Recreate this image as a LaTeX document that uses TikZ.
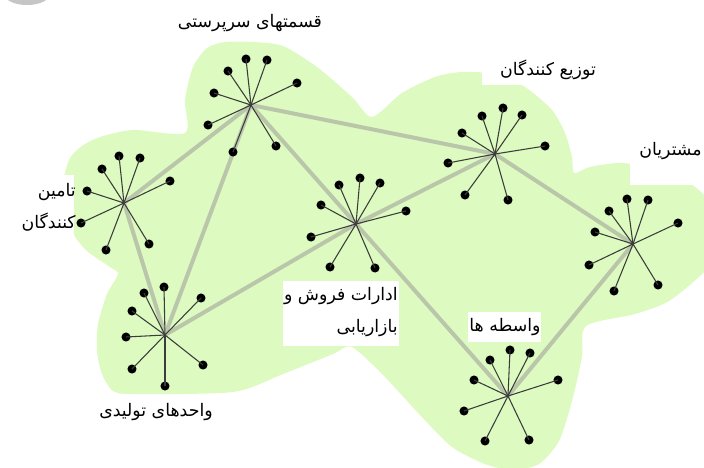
\documentclass[tikz,border=0pt]{standalone}
\usepackage{fontspec}
\newfontfamily\arabicfont[Script=Arabic]{DejaVu Sans}
\TeXXeTstate=1
\newcommand\fa[1]{\beginR #1\endR}
\definecolor{blobgreen}{RGB}{221,250,192}
\definecolor{linkgray}{RGB}{186,198,170}
\definecolor{spokegray}{RGB}{60,60,60}
\begin{document}
\begin{tikzpicture}[x=0.75pt,y=-0.75pt,
  dot/.style={circle,fill=black,inner sep=0pt,minimum size=6.8pt},
  hub/.style={circle,fill=spokegray,inner sep=0pt,minimum size=1.5pt},
  spoke/.style={draw=spokegray,line width=0.8pt},
  link/.style={draw=linkgray,line width=3pt},
  lbl/.style={font=\arabicfont\fontsize{13}{24}\selectfont,inner sep=0pt,text=black},
  whitebox/.style={fill=white,draw=none}]
\useasboundingbox (0,0) rectangle (704,468);
% blob
\fill[blobgreen] plot[smooth cycle,tension=0.45] coordinates {
 (185,133) (185,100) (193,67) (207,48) (225,42) (253,42) (283,46) (317,67) (352,97) (372,117)
 (402,93) (435,77) (462,72) (495,74) (525,87) (552,110) (565,133) (572,157) (574,173)
 (590,167) (619,163) (650,167) (685,180) (712,205) (716,250) (704,272) (669,301) (635,314) (586,326)
 (582,357) (572,401) (559,441) (539,464) (512,470) (485,464) (452,447) (419,414) (385,377) (352,347)
 (333,354) (283,374) (233,392) (133,394) (113,391) (102,374) (97,351) (98,324) (107,294) (118,274)
 (110,267) (87,251) (72,232) (63,205) (64,178) (70,158) (82,146) (100,137) (133,130) };
% corner gray shape
\fill[gray!45] (27,-5) ellipse [x radius=22, y radius=10];
% white label boxes
\fill[whitebox] (283,281) rectangle (399,346);
\fill[whitebox] (468,312) rectangle (541,342);
\fill[whitebox] (482,50) rectangle (604,85);
\fill[whitebox] (630,138) rectangle (704,185);
\fill[whitebox] (0,175) rectangle (74,240);
% hubs
\node[hub] (h1) at (251,105) {};
\node[hub] (h2) at (124,203) {};
\node[hub] (h3) at (356,224) {};
\node[hub] (h4) at (495,154) {};
\node[hub] (h5) at (633,244) {};
\node[hub] (h6) at (165,335) {};
\node[hub] (h7) at (508,396) {};
% links
\foreach \a/\b in {h1/h2,h1/h6,h1/h3,h1/h4,h2/h6,h6/h3,h3/h4,h3/h7,h4/h5,h5/h7}
  \draw[link] (\a.center) -- (\b.center);
% spokes and dots
\foreach \h/\pts in {
 h1/{(228,71),(246,59),(267,60),(297,83),(214,93),(208,125),(233,152),(276,146)},
 h2/{(102,169),(119,156),(140,158),(170,181),(87,191),(81,223),(106,250),(149,244)},
 h3/{(339,185),(360,178),(380,183),(406,211),(321,205),(311,237),(330,267),(375,268)},
 h4/{(482,116),(503,108),(522,115),(545,146),(462,133),(448,163),(465,195),(508,200)},
 h5/{(609,211),(627,199),(648,200),(678,223),(595,232),(589,265),(614,291),(658,285)},
 h6/{(144,293),(164,287),(201,298),(132,311),(126,337),(132,369),(165,386),(203,365)},
 h7/{(490,360),(510,350),(530,353),(558,380),(474,380),(464,411),(485,441),(529,440)}}{
  \foreach \p [count=\i] in \pts {
    \node[dot] (\h-\i) at \p {};
    \draw[spoke] (\h.center) -- (\h-\i.center);
  }
}
% labels
\node[lbl] (l1) at (250,23) {\fa{قسمتهای سرپرستی}};
\node[lbl,align=right,anchor=east] (l2) at (76,207) {\fa{تامین}\\\fa{کنندگان}};
\node[lbl,align=right,anchor=east] (l3) at (398,312) {\fa{ادارات فروش و}\\\fa{بازاریابی}};
\node[lbl] (l4) at (505,327) {\fa{واسطه ها}};
\node[lbl] (l5) at (548,70) {\fa{توزیع کنندگان}};
\node[lbl,anchor=east] (l6) at (702,151) {\fa{مشتریان}};
\node[lbl] (l7) at (156,412) {\fa{واحدهای تولیدی}};
\end{tikzpicture}
\end{document}
